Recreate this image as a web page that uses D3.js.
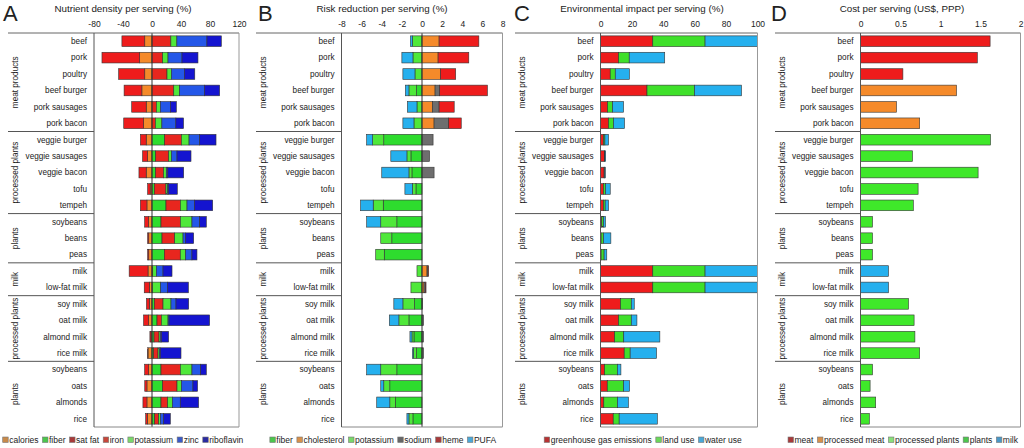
<!DOCTYPE html>
<html>
<head>
<meta charset="utf-8">
<script src="https://cdn.jsdelivr.net/npm/d3@7"></script>
<style>
body { margin: 0; background: #fff; }
text { font-family: "Liberation Sans", Arial, sans-serif; fill: #222; }
</style>
</head>
<body>
<script>
var foods = ["beef", "pork", "poultry", "beef burger", "pork sausages", "pork bacon",
	"veggie burger", "veggie sausages", "veggie bacon", "tofu", "tempeh",
	"soybeans", "beans", "peas",
	"milk", "low-fat milk",
	"soy milk", "oat milk", "almond milk", "rice milk",
	"soybeans", "oats", "almonds", "rice"]
var groupNames = ["meat products", "processed plants", "plants", "milk", "processed plants", "plants"]
var groupSizes = [6, 5, 3, 2, 4, 4]

// A: nutrient density (%)
var nutCalories = [-10, -17, -10, -14, -8, -11.5, -8, -6, -8, -2.5, -7, -4.6, -4.5, -4.5, -5.5, -3.7, -3.7, -4.6, -1.4, -5.5, -4.6, -7, -7, -6.4]
var nutSatFat = [-31.5, -52, -36, -24.5, -20, -27.5, -8, -7, -10, -3.5, -9, -5.5, -1.5, -1.5, -26, -7, -4, -7, -1.5, -0.5, -5.5, -3, -5.5, -2.3]
var nutFiber = [0, 0, 0, 0, 0, 0, 17.5, 5, 5, 3.2, 19.3, 12.4, 13.8, 17, 0, 0, 3.2, 6.9, 2.8, 2.3, 12.4, 14.7, 12.4, 3.7]
var nutIron = [26, 14.7, 20.7, 30, 6, 4.6, 23, 18, 11, 16, 19.8, 26.7, 17.5, 22, 1, 0.5, 12, 6, 6.9, 6, 26.7, 19.8, 9.2, 5.5]
var nutPotassium = [8.3, 7.4, 6, 7.8, 5.5, 9, 10.6, 3.7, 3.7, 2.3, 9.2, 16, 11.5, 7.4, 5, 11.5, 11, 9.2, 1.8, 1.8, 16, 6, 6.4, 2.3]
var nutZinc = [41.5, 19.3, 18, 34.5, 13.8, 19.3, 14.7, 7.8, 2, 1.4, 10.6, 10.6, 3.2, 8.7, 9.2, 9.2, 6.9, 1.4, 1.4, 1.4, 12, 16, 11, 4.6]
var nutRiboflavin = [19.8, 22, 14.3, 21, 8.3, 10.6, 22.5, 19.3, 22, 12, 24.8, 9.2, 11.5, 6.9, 12.4, 29, 17.5, 56, 10, 28.5, 7.8, 6.4, 25.3, 9.2]

// B: risk reduction (%)
var riskFiber = [0, 0, 0, -0.55, 0, 0, -3.8, -1.1, -1, -0.6, -3.85, -2.5, -3, -3.75, 0, 0, -0.75, -1.3, -0.8, -0.55, -2.5, -3.2, -2.65, -0.9]
var riskPotassium = [-0.95, -0.9, -0.7, -0.75, -0.5, -0.8, -1.1, -0.4, -0.3, -0.35, -1, -1.6, -1.1, -0.85, -0.5, -1.1, -1.15, -1, -0.2, -0.3, -1.6, -0.6, -0.55, -0.4]
var riskPufa = [-0.2, -1.1, -1.2, -0.35, -0.95, -1.1, -0.6, -1.6, -2.7, -0.75, -1.25, -1.4, 0, 0, 0, 0, -0.9, -0.95, -0.2, -0.1, -1.4, -0.3, -1.3, -0.2]
var riskCholesterol = [1.7, 1.6, 1.85, 1.3, 1.05, 1.2, 0, 0, 0, 0, 0, 0, 0, 0, 0.5, 0.2, 0, 0, 0, 0, 0, 0, 0, 0]
var riskSodium = [0, 0, 0, 0.45, 0.65, 1.45, 1.1, 0.75, 1.2, 0, 0, 0, 0, 0, 0.1, 0.15, 0.05, 0.15, 0.15, 0.15, 0, 0, 0, 0]
var riskHeme = [3.95, 3.05, 1.5, 4.75, 1.5, 1.25, 0, 0, 0, 0, 0, 0, 0, 0, 0.05, 0.05, 0, 0, 0, 0, 0, 0, 0, 0]

// C: environmental impact (%)
var envGhg = [33.3, 11.5, 6.2, 29.6, 4.5, 5.1, 1.9, 2.5, 2.3, 1.9, 1.9, 0.8, 0.4, 0.4, 33.3, 33.3, 12.8, 11.5, 9, 15.1, 2.6, 4.3, 2.1, 8.1]
var envLand = [33.3, 6.8, 3.2, 30.3, 3.2, 3.2, 0.9, 0.3, 0.3, 1.3, 1.1, 1.1, 1.5, 1.9, 33.3, 33.3, 6.8, 8.1, 5.8, 3.8, 8.1, 10.4, 8.7, 3.8]
var envWater = [33.4, 22.6, 9, 29.9, 7, 7, 2.3, 0.5, 0.5, 3, 2.1, 1.3, 4.7, 1.7, 33.4, 33.4, 1.9, 3.6, 23, 16.8, 2.3, 3.8, 7, 24.3]

// D: cost per serving (US$, PPP)
var cost = [1.62, 1.46, 0.53, 1.2, 0.45, 0.74, 1.625, 0.65, 1.47, 0.72, 0.66, 0.15, 0.15, 0.15, 0.35, 0.35, 0.6, 0.67, 0.68, 0.74, 0.15, 0.12, 0.19, 0.11]
var costType = ["meat", "meat", "meat", "processed meat", "processed meat", "processed meat",
	"processed plants", "processed plants", "processed plants", "processed plants", "processed plants",
	"plants", "plants", "plants", "milk", "milk",
	"processed plants", "processed plants", "processed plants", "processed plants",
	"plants", "plants", "plants", "plants"]

var w = 1024
var h = 448
var plotTop = 33
var plotBottom = 427

var svg = d3.select("body")
	.append("svg")
	.attr("width", w)
	.attr("height", h)

var yScale = d3.scaleBand()
	.domain(d3.range(foods.length))
	.range([plotTop, plotBottom])
	.paddingInner(0.35)
	.paddingOuter(0.175)
var rowH = (plotBottom - plotTop) / foods.length

function drawPanel(p) {
	var g = svg.append("g")
	var xScale = d3.scaleLinear().domain(p.domain).range([p.x0, p.x1])

	g.append("text")
		.attr("x", p.letterX)
		.attr("y", 21)
		.style("font-size", "22px")
		.text(p.letter)

	g.append("text")
		.attr("x", p.titleX)
		.attr("y", 11.5)
		.attr("text-anchor", "middle")
		.style("font-size", "9.8px")
		.text(p.title)

	var axis = d3.axisTop(xScale)
		.tickValues(p.ticks)
		.tickSize(0)
		.tickPadding(0)
		.tickFormat((d) => String(d))
	g.append("g")
		.attr("transform", "translate(0,26.5)")
		.call(axis)
		.call((a) => a.select(".domain").remove())
		.selectAll("text")
		.style("font-size", "8.5px")
		.style("font-family", "'Liberation Sans', Arial, sans-serif")
		.attr("fill", "#222")

	// bars
	var rows = foods.map((f, i) => {
		var r = {}
		p.keys.forEach((k, j) => r[k] = p.series[j][i])
		return r
	})
	var stack = d3.stack().keys(p.keys).offset(d3.stackOffsetDiverging)(rows)
	stack.forEach((layer) => {
		g.append("g")
			.selectAll("rect")
			.data(layer.map((d, i) => ({ v: d, i: i })).filter((d) => d.v[1] - d.v[0] != 0))
			.enter()
			.append("rect")
			.attr("x", (d) => xScale(Math.min(d.v[0], d.v[1])))
			.attr("y", (d) => yScale(d.i))
			.attr("width", (d) => Math.abs(xScale(d.v[1]) - xScale(d.v[0])))
			.attr("height", yScale.bandwidth())
			.attr("fill", (d) => p.color(layer.key, d.i))
			.attr("stroke", "#333")
			.attr("stroke-width", 0.6)
	})

	if (p.zero) {
		g.append("line")
			.attr("x1", xScale(0)).attr("x2", xScale(0))
			.attr("y1", plotTop).attr("y2", plotBottom)
			.attr("stroke", "#333")
			.attr("stroke-width", 1)
	}

	// frame
	g.append("line")
		.attr("x1", p.left).attr("x2", p.x1)
		.attr("y1", plotTop).attr("y2", plotTop)
		.attr("stroke", "#666")
	g.append("line")
		.attr("x1", p.x0).attr("x2", p.x1)
		.attr("y1", plotBottom).attr("y2", plotBottom)
		.attr("stroke", "#888")
	g.append("line")
		.attr("x1", p.x0).attr("x2", p.x0)
		.attr("y1", plotTop).attr("y2", plotBottom)
		.attr("stroke", "#555")
	g.append("line")
		.attr("x1", p.x1).attr("x2", p.x1)
		.attr("y1", plotTop).attr("y2", plotBottom)
		.attr("stroke", "#999")

	// row labels
	g.append("g")
		.selectAll("text")
		.data(foods)
		.enter()
		.append("text")
		.attr("x", p.x0 - 7)
		.attr("y", (d, i) => yScale(i) + yScale.bandwidth() / 2)
		.attr("dy", "0.35em")
		.attr("text-anchor", "end")
		.style("font-size", "8.2px")
		.text((d) => d)

	// groups
	var start = 0
	groupNames.forEach((name, gi) => {
		var n = groupSizes[gi]
		var cy = plotTop + (start + n / 2) * rowH
		g.append("text")
			.attr("transform", "translate(" + (p.left + 7) + "," + cy + ") rotate(-90)")
			.attr("dy", "0.35em")
			.attr("text-anchor", "middle")
			.style("font-size", "8.2px")
			.text(name)
		start += n
		if (start < foods.length) {
			g.append("line")
				.attr("x1", p.left).attr("x2", p.x0)
				.attr("y1", plotTop + start * rowH).attr("y2", plotTop + start * rowH)
				.attr("stroke", "#555")
		}
	})

	// legend
	var leg = g.append("g")
	var pos = 0
	p.legend.forEach((item) => {
		var it = leg.append("g").attr("transform", "translate(" + pos + ",0)")
		it.append("rect")
			.attr("x", 0).attr("y", -3)
			.attr("width", 5.5).attr("height", 5.5)
			.attr("fill", item.color)
			.attr("stroke", "#777")
			.attr("stroke-width", 0.6)
		var t = it.append("text")
			.attr("x", 6.5)
			.attr("y", 0)
			.attr("dy", "0.35em")
			.style("font-size", "8.5px")
			.text(item.label)
		pos += 6.5 + t.node().getComputedTextLength() + 4
	})
	pos -= 4
	leg.attr("transform", "translate(" + (p.legendX - pos / 2) + ",440)")
}

var colNut = { nutCalories: "#f58a2a", nutSatFat: "#ee1c1c", nutFiber: "#2edc2e", nutIron: "#e8261e",
	nutPotassium: "#4fe83a", nutZinc: "#2457e8", nutRiboflavin: "#1414d0" }
var colRisk = { riskFiber: "#2edc2e", riskPotassium: "#4fe83a", riskPufa: "#25b0ee",
	riskCholesterol: "#f58a2a", riskSodium: "#6e6e6e", riskHeme: "#ee1c1c" }
var colEnv = { envGhg: "#ee1c1c", envLand: "#3fe02a", envWater: "#25b0ee" }
var colCost = { "meat": "#ee1c1c", "processed meat": "#f58a2a", "processed plants": "#3fe82a",
	"plants": "#3fe82a", "milk": "#25b0ee" }

drawPanel({
	letter: "A", letterX: 3, left: 8, x0: 94, x1: 239, titleX: 123, legendX: 123,
	domain: [-80, 120], ticks: [-80, -40, 0, 40, 80, 120], zero: true,
	title: "Nutrient density per serving (%)",
	keys: ["nutCalories", "nutSatFat", "nutFiber", "nutIron", "nutPotassium", "nutZinc", "nutRiboflavin"],
	series: [nutCalories, nutSatFat, nutFiber, nutIron, nutPotassium, nutZinc, nutRiboflavin],
	color: (k) => colNut[k],
	legend: [
		{ label: "calories", color: "#c88a4a" }, { label: "fiber", color: "#4cc64c" },
		{ label: "sat fat", color: "#a83a3a" }, { label: "iron", color: "#c8463a" },
		{ label: "potassium", color: "#7ad86a" }, { label: "zinc", color: "#3a5ac8" },
		{ label: "riboflavin", color: "#2a2aa0" }]
})

drawPanel({
	letter: "B", letterX: 258, left: 256, x0: 341.5, x1: 502.5, titleX: 382, legendX: 383,
	domain: [-8, 8], ticks: [-8, -6, -4, -2, 0, 2, 4, 6, 8], zero: true,
	title: "Risk reduction per serving (%)",
	keys: ["riskFiber", "riskPotassium", "riskPufa", "riskCholesterol", "riskSodium", "riskHeme"],
	series: [riskFiber, riskPotassium, riskPufa, riskCholesterol, riskSodium, riskHeme],
	color: (k) => colRisk[k],
	legend: [
		{ label: "fiber", color: "#4cc64c" }, { label: "cholesterol", color: "#d8904a" },
		{ label: "potassium", color: "#7ad86a" }, { label: "sodium", color: "#666" },
		{ label: "heme", color: "#a83a3a" }, { label: "PUFA", color: "#4aa8d8" }]
})

drawPanel({
	letter: "C", letterX: 514, left: 515, x0: 600.5, x1: 757.5, titleX: 642, legendX: 643,
	domain: [0, 100], ticks: [0, 20, 40, 60, 80, 100], zero: false,
	title: "Environmental impact per serving (%)",
	keys: ["envGhg", "envLand", "envWater"],
	series: [envGhg, envLand, envWater],
	color: (k) => colEnv[k],
	legend: [
		{ label: "greenhouse gas emissions", color: "#b83232" },
		{ label: "land use", color: "#6ad85a" }, { label: "water use", color: "#4aa8d8" }]
})

drawPanel({
	letter: "D", letterX: 771, left: 775, x0: 860.5, x1: 1020.5, titleX: 902, legendX: 903,
	domain: [0, 2], ticks: [0, 0.5, 1, 1.5, 2], zero: false,
	title: "Cost per serving (US$, PPP)",
	keys: ["cost"],
	series: [cost],
	color: (k, i) => colCost[costType[i]],
	legend: [
		{ label: "meat", color: "#a83a3a" }, { label: "processed meat", color: "#d8904a" },
		{ label: "processed plants", color: "#8ae07a" }, { label: "plants", color: "#4cc64c" },
		{ label: "milk", color: "#4a98c8" }]
})
</script>
</body>
</html>
